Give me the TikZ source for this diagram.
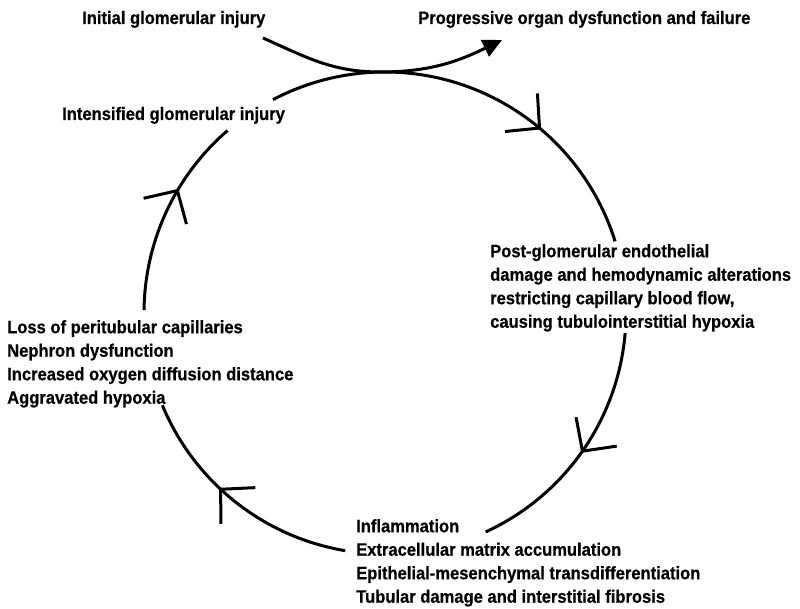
\documentclass[tikz,border=0pt]{standalone}
\usepackage{fontspec}
\newfontfamily\cyclefont{Liberation Sans}[FakeStretch=0.92, BoldFeatures={FakeBold=0.6}]
\usetikzlibrary{positioning, arrows.meta, decorations.markings}

\begin{document}
\begin{tikzpicture}[x=1pt, y=1pt,
    cycle label/.style={inner sep=0pt, align=left, font=\cyclefont\bfseries\fontsize{18}{23.5}\selectfont},
    cycle line/.style={line width=3pt},
    barb at/.style={postaction={decorate, decoration={markings,
        mark=at position #1 with {\arrow{Straight Barb[length=24pt, width=50pt, line cap=butt]}}}}}]

    \useasboundingbox (0,0) rectangle (800,609);

    % --- Begin Labels ---
    \node [cycle label, anchor=base west] (InitialInjury) at (82,585) {Initial glomerular injury};
    \node [cycle label, anchor=base west] (ProgressiveFailure) at (418,585) {Progressive organ dysfunction and failure};
    \node [cycle label, anchor=base west] (IntensifiedInjury) at (62,489) {Intensified glomerular injury};

    \node [cycle label, anchor=north west] (post_glomerular) at (490,365) {
        Post-glomerular endothelial \\
        damage and hemodynamic alterations \\
        restricting capillary blood flow, \\
        causing tubulointerstitial hypoxia
    };
    \node [cycle label, anchor=north west] (tubular_damage) at (356,90) {
        Inflammation \\
        Extracellular matrix accumulation \\
        Epithelial-mesenchymal transdifferentiation \\
        Tubular damage and interstitial fibrosis
    };
    \node [cycle label, anchor=north west] (capillary_loss) at (7,289) {
        Loss of peritubular capillaries \\
        Nephron dysfunction \\
        Increased oxygen diffusion distance \\
        Aggravated hypoxia
    };
    % --- End Labels ---

    % Centre of the vicious circle.
    \coordinate (Center) at (385,296);
    \def\R{241pt}

    % --- Begin Circle Arcs ---
    \path (Center) ++(117.7:\R) coordinate (arc_top_start);
    \path (Center) ++(-4.8:\R) coordinate (arc_right_start);
    \path (Center) ++(-99.5:\R) coordinate (arc_bottom_start);
    \path (Center) ++(179.3:\R) coordinate (arc_left_start);

    \draw[cycle line, barb at=0.678] (arc_top_start) arc[start angle=117.7, end angle=17.3, radius=\R];
    \draw[cycle line, barb at=0.507] (arc_right_start) arc[start angle=-4.8, end angle=-65.3, radius=\R];
    \draw[cycle line, barb at=0.586] (arc_bottom_start) arc[start angle=-99.5, end angle=-157.5, radius=\R];
    \draw[cycle line, barb at=0.625] (arc_left_start) arc[start angle=179.3, end angle=130.8, radius=\R];
    % --- End Circle Arcs ---

    % Way out of the circle.
    \coordinate (injury_start) at (263,571);
    \coordinate (top_touch) at (380,537);
    \coordinate (failure_tip) at (502,569);
    \draw[cycle line, -{Triangle[length=19pt, width=18pt]}] (injury_start) to[out=-24, in=180] (top_touch) to[out=0, in=206] (failure_tip);

\end{tikzpicture}
\end{document}
